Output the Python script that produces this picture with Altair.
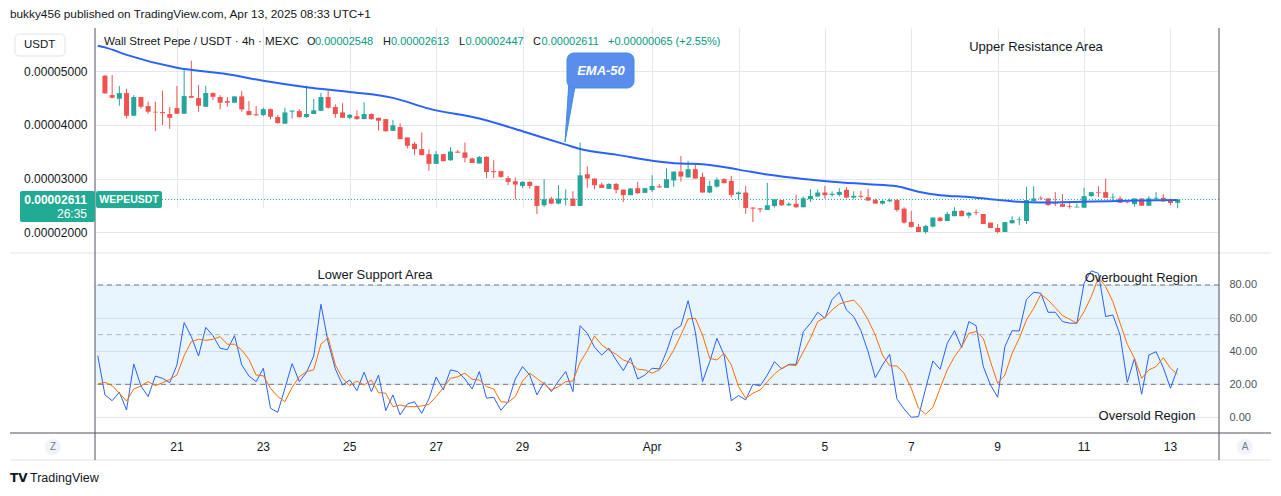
import altair as alt
import pandas as pd

# ---------------- data (prices in units of 1e-5 USDT) ----------------
opens = [4.913, 4.553, 4.484, 4.59, 4.168, 4.516, 4.348, 4.242, 4.236, 4.199,
         4.31, 4.205, 4.534, 4.497, 4.335, 4.59, 4.516, 4.44, 4.41, 4.528,
         4.255, 4.195, 4.18, 4.29, 4.143, 4.02, 4.245, 4.255, 4.143, 4.20,
         4.26, 4.516, 4.33, 4.23, 4.13, 4.16, 4.105, 4.20, 4.13, 4.105,
         3.888, 3.957, 3.764, 3.646, 3.547, 3.453, 3.273, 3.453, 3.34, 3.50,
         3.485, 3.373, 3.28, 3.404, 3.137, 3.137, 3.006, 2.95, 2.863, 2.938,
         2.863, 2.503, 2.627, 2.534, 2.61, 2.627, 2.49, 3.08, 3.0, 2.888,
         2.807, 2.90, 2.795, 2.69, 2.82, 2.733, 2.783, 2.855, 2.826, 2.963,
         3.13, 3.02, 3.174, 3.031, 2.739, 2.85, 2.988, 2.957, 2.71, 2.74,
         2.46, 2.445, 2.416, 2.49, 2.60, 2.503, 2.53, 2.466, 2.615, 2.665,
         2.74, 2.695, 2.696, 2.79, 2.646, 2.677, 2.652, 2.60, 2.534, 2.578,
         2.60, 2.44, 2.193, 2.10, 2.006, 2.106, 2.273, 2.21, 2.30, 2.398,
         2.31, 2.377, 2.34, 2.18, 2.08, 2.006, 2.167, 2.228, 2.21, 2.58,
         2.642, 2.63, 2.537, 2.525, 2.488, 2.463, 2.457, 2.673, 2.747, 2.747,
         2.648, 2.63, 2.568, 2.525, 2.63, 2.494, 2.625, 2.642, 2.61, 2.548]
highs = [4.92, 4.925, 4.72, 4.67, 4.55, 4.516, 4.43, 4.43, 4.634, 4.33,
         4.72, 5.03, 5.19, 4.74, 4.727, 4.60, 4.55, 4.516, 4.528, 4.627,
         4.44, 4.35, 4.317, 4.30, 4.18, 4.317, 4.265, 4.29, 4.727, 4.48,
         4.59, 4.65, 4.38, 4.40, 4.20, 4.267, 4.42, 4.21, 4.13, 4.105,
         4.087, 4.025, 3.764, 3.68, 3.857, 3.54, 3.51, 3.46, 3.584, 3.53,
         3.67, 3.39, 3.42, 3.416, 3.34, 3.143, 3.05, 3.02, 2.95, 2.95,
         2.863, 2.988, 2.66, 2.876, 2.80, 2.764, 3.67, 3.23, 3.0, 2.925,
         2.913, 2.92, 2.795, 2.826, 2.94, 2.826, 3.06, 2.90, 3.19, 3.124,
         3.42, 3.33, 3.255, 3.11, 2.957, 3.02, 3.006, 3.05, 2.76, 2.863,
         2.466, 2.45, 2.92, 2.615, 2.60, 2.56, 2.70, 2.665, 2.80, 2.80,
         2.863, 2.76, 2.82, 2.84, 2.764, 2.77, 2.81, 2.627, 2.60, 2.627,
         2.615, 2.466, 2.404, 2.155, 2.137, 2.286, 2.29, 2.38, 2.466, 2.416,
         2.383, 2.426, 2.34, 2.18, 2.154, 2.19, 2.30, 2.29, 2.846, 2.858,
         2.67, 2.63, 2.747, 2.71, 2.568, 2.537, 2.83, 2.747, 2.858, 3.0,
         2.722, 2.673, 2.568, 2.63, 2.63, 2.673, 2.747, 2.71, 2.63, 2.613]
lows = [4.58, 4.49, 4.354, 4.118, 4.16, 4.30, 4.205, 3.88, 3.994, 3.925,
        4.20, 4.20, 4.50, 4.242, 4.335, 4.46, 4.286, 4.335, 4.41, 4.242,
        4.18, 4.17, 4.16, 4.10, 4.02, 4.02, 4.118, 4.13, 4.13, 4.20,
        4.26, 4.30, 4.13, 4.13, 4.105, 4.093, 4.105, 4.093, 3.894, 3.87,
        3.888, 3.733, 3.56, 3.435, 3.435, 3.143, 3.273, 3.32, 3.33, 3.48,
        3.30, 3.29, 3.28, 3.01, 3.01, 3.01, 2.876, 2.615, 2.826, 2.81,
        2.34, 2.47, 2.52, 2.52, 2.50, 2.49, 2.49, 2.83, 2.80, 2.826,
        2.807, 2.72, 2.565, 2.69, 2.715, 2.733, 2.75, 2.83, 2.826, 2.845,
        2.944, 3.02, 3.0, 2.739, 2.727, 2.83, 2.913, 2.646, 2.62, 2.342,
        2.19, 2.37, 2.416, 2.46, 2.49, 2.49, 2.453, 2.466, 2.565, 2.665,
        2.627, 2.665, 2.665, 2.634, 2.615, 2.63, 2.59, 2.534, 2.515, 2.56,
        2.38, 2.16, 2.087, 2.006, 1.975, 2.093, 2.20, 2.21, 2.30, 2.30,
        2.26, 2.32, 2.154, 2.08, 1.98, 2.006, 2.167, 2.136, 2.154, 2.58,
        2.60, 2.494, 2.488, 2.475, 2.44, 2.463, 2.457, 2.66, 2.66, 2.642,
        2.568, 2.55, 2.537, 2.475, 2.494, 2.494, 2.586, 2.562, 2.506, 2.447]
closes = [4.584, 4.503, 4.59, 4.168, 4.516, 4.335, 4.242, 4.23, 4.217, 4.13,
          4.205, 4.534, 4.503, 4.354, 4.59, 4.52, 4.41, 4.41, 4.528, 4.286,
          4.18, 4.175, 4.29, 4.149, 4.031, 4.23, 4.265, 4.143, 4.20, 4.27,
          4.516, 4.317, 4.20, 4.13, 4.186, 4.105, 4.20, 4.105, 4.075, 3.88,
          3.99, 3.733, 3.609, 3.547, 3.435, 3.273, 3.453, 3.323, 3.503, 3.48,
          3.385, 3.29, 3.40, 3.122, 3.118, 3.03, 2.938, 2.888, 2.938, 2.863,
          2.491, 2.615, 2.534, 2.627, 2.627, 2.49, 3.06, 3.0, 2.876, 2.826,
          2.90, 2.79, 2.69, 2.814, 2.727, 2.82, 2.863, 2.835, 2.988, 3.13,
          3.037, 3.174, 3.0, 2.739, 2.863, 2.975, 2.913, 2.696, 2.74, 2.453,
          2.44, 2.425, 2.503, 2.615, 2.503, 2.53, 2.466, 2.633, 2.677, 2.74,
          2.69, 2.717, 2.752, 2.646, 2.677, 2.66, 2.59, 2.534, 2.584, 2.60,
          2.416, 2.18, 2.10, 2.006, 2.118, 2.273, 2.21, 2.342, 2.398, 2.30,
          2.364, 2.364, 2.154, 2.08, 2.006, 2.19, 2.228, 2.24, 2.60, 2.63,
          2.63, 2.506, 2.525, 2.475, 2.475, 2.475, 2.673, 2.747, 2.735, 2.642,
          2.66, 2.55, 2.556, 2.63, 2.494, 2.63, 2.642, 2.574, 2.546, 2.611]

# EMA-50 read at selected bars (bar index, value in 1e-5)
ema_bar = [-1, 0, 3, 10, 17, 22, 28, 34, 40, 45, 52, 58, 64, 66, 71, 76, 80, 83,
           88, 92, 97, 101, 106, 110, 113, 116, 120, 123, 127, 130, 137, 142, 149]
ema_val = [5.47, 5.44, 5.30, 5.06, 4.94, 4.82, 4.70, 4.61, 4.50, 4.30, 4.115, 3.88,
           3.63, 3.55, 3.445, 3.333, 3.28, 3.268, 3.166, 3.073, 2.99, 2.942, 2.896,
           2.858, 2.756, 2.691, 2.657, 2.616, 2.566, 2.555, 2.574, 2.585, 2.603]

# Stoch RSI %K (blue) and %D (orange); first value belongs to the bar before the first candle
stoch_k = [37.3,
           13.6, 10.1, 15.2, 4.5, 32.3, 19.0, 12.6, 25.0, 23.6, 21.0,
           31.7, 57.3, 48.8, 37.1, 54.4, 49.4, 41.8, 40.9, 49.4, 31.7,
           25.0, 21.6, 29.7, 5.5, 3.1, 17.6, 32.5, 21.6, 27.3, 37.1,
           68.3, 45.4, 29.3, 19.6, 22.6, 16.2, 27.3, 15.6, 25.6, 4.1,
           13.6, 1.5, 8.1, 9.5, 2.5, 11.2, 24.4, 16.6, 28.7, 27.7,
           23.2, 17.2, 27.7, 11.6, 12.2, 4.3, 9.5, 23.2, 30.7, 25.6,
           13.6, 21.2, 15.6, 22.0, 27.7, 15.6, 55.4, 50.8, 42.4, 37.7,
           41.8, 34.7, 28.3, 36.1, 23.2, 25.6, 29.7, 29.3, 39.7, 52.6,
           55.4, 70.5, 51.8, 21.6, 33.7, 47.8, 37.7, 10.1, 13.2, 10.6,
           20.0, 19.0, 25.6, 33.7, 29.3, 32.1, 32.1, 51.8, 56.9, 63.5,
           59.9, 71.3, 75.6, 64.9, 60.9, 52.4, 39.7, 24.0, 31.7, 38.1,
           11.2, 5.1, 0.1, 0.5, 17.6, 34.1, 29.1, 44.8, 52.4, 42.2,
           57.9, 55.4, 30.7, 19.6, 12.2, 42.8, 52.4, 52.2, 71.3, 75.6,
           75.0, 63.5, 63.5, 57.9, 56.9, 56.9, 81.0, 88.5, 87.0, 60.9,
           61.9, 49.8, 21.2, 35.7, 14.0, 37.7, 39.7, 30.1, 17.6, 29.7]
stoch_d = [20.2,
           21.2, 19.2, 14.6, 9.9, 17.2, 19.0, 21.6, 19.2, 21.0, 23.0,
           25.6, 37.3, 45.8, 47.2, 46.6, 47.2, 48.8, 44.2, 44.2, 40.7,
           35.1, 25.6, 25.2, 17.6, 12.6, 9.5, 18.2, 24.6, 27.7, 28.7,
           44.2, 48.2, 31.7, 23.6, 19.2, 22.0, 19.6, 22.6, 15.0, 14.6,
           6.5, 7.5, 6.5, 6.5, 6.9, 7.9, 12.6, 18.0, 23.6, 24.6,
           26.7, 23.0, 22.6, 18.6, 17.2, 9.5, 9.1, 12.6, 22.0, 26.7,
           23.6, 20.2, 16.6, 18.6, 21.6, 22.0, 33.3, 40.3, 49.2, 43.8,
           40.7, 38.1, 34.7, 33.1, 29.1, 28.7, 26.7, 28.7, 33.3, 40.7,
           49.8, 59.5, 59.9, 49.8, 35.7, 34.7, 38.7, 31.7, 18.6, 11.6,
           14.6, 16.6, 21.6, 26.3, 29.7, 31.7, 31.3, 39.7, 47.8, 57.9,
           60.3, 64.9, 68.5, 69.9, 70.9, 66.3, 58.9, 49.8, 37.7, 31.1,
           31.1, 26.7, 17.6, 5.6, 2.0, 6.1, 17.6, 28.7, 36.7, 42.8,
           50.8, 51.8, 47.8, 33.7, 20.6, 25.6, 38.7, 47.8, 58.9, 65.9,
           74.4, 70.9, 66.3, 61.5, 59.3, 56.9, 63.9, 73.0, 84.4, 79.0,
           69.9, 56.9, 44.2, 35.7, 23.6, 28.7, 30.7, 36.1, 29.7, 26.1]

tick_dates = ["2025-03-21", "2025-03-23", "2025-03-25", "2025-03-27", "2025-03-29",
              "2025-04-01", "2025-04-03", "2025-04-05", "2025-04-07", "2025-04-09",
              "2025-04-11", "2025-04-13"]
tick_labels = ["21", "23", "25", "27", "29", "Apr", "3", "5", "7", "9", "11", "13"]
price_ticks = [2, 3, 4, 5]
rsi_ticks = [0, 20, 40, 60, 80]
rsi_levels = [20, 80]
rsi_mid = [50]

# ---------------- build tables ----------------
def ms(s):
    return int(pd.Timestamp(s, tz="UTC").timestamp() * 1000)

BAR = 4 * 3600 * 1000
T0 = ms("2025-03-19 08:00")
n = len(opens)
times = [T0 + i * BAR for i in range(n)]
E = 1e-5

candles = pd.DataFrame({
    "t": times,
    "o": [v * E for v in opens],
    "h": [v * E for v in highs],
    "l": [v * E for v in lows],
    "c": [v * E for v in closes],
    "dir": ["up" if c >= o else "down" for o, c in zip(opens, closes)],
})
ema_df = pd.DataFrame({"t": [T0 + i * BAR for i in ema_bar], "v": [v * E for v in ema_val]})
rsi_df = pd.DataFrame({"t": [T0 + i * BAR for i in range(-1, n)], "k": stoch_k, "d": stoch_d})
tick_df = pd.DataFrame({"t": [ms(d) for d in tick_dates], "label": tick_labels})
lvl_df = pd.DataFrame({"lvl": rsi_levels})
mid_df = pd.DataFrame({"lvl": rsi_mid})
band_df = pd.DataFrame({"lo": [min(rsi_levels)], "hi": [max(rsi_levels)]})
ONE = pd.DataFrame({"a": [0]})

# ---------------- style ----------------
FONT = "Liberation Sans"
INK = "#131722"
GRID = "#e3e8ef"
GREEN = "#26a69a"
RED = "#ef5350"
TEAL = "#22ab94"
VALC = "#089981"
W, H = 1124, 405

xscale = alt.Scale(type="utc", domain=[ms("2025-03-19 05:15"), ms("2025-04-14 00:11")])
xaxis = alt.Axis(values=[ms(d) for d in tick_dates], grid=True, gridColor=GRID, labels=False,
                 ticks=False, domain=False, title=None)
pscale = alt.Scale(domain=[1.615e-5, 5.80e-5], range=[225, 0], zero=False, nice=False)
paxis = alt.Axis(orient="left", values=[v * E for v in price_ticks], format=".8f", grid=True,
                 gridColor=GRID, domain=False, ticks=False, labelPadding=8, labelFontSize=12,
                 labelColor=INK, labelFont=FONT, title=None)
rscale = alt.Scale(domain=[-9.4, 98.7], range=[405, 226], zero=False, nice=False)
raxis = alt.Axis(orient="right", values=rsi_ticks, format=".2f", grid=True, gridColor=GRID,
                 domain=False, ticks=False, labelPadding=10, labelFontSize=11,
                 labelColor="#50535e", labelFont=FONT, title=None)

X = alt.X("t:T", scale=xscale, axis=xaxis)
color = alt.Color("dir:N", scale=alt.Scale(domain=["up", "down"], range=[GREEN, RED]), legend=None)

wicks = alt.Chart(candles).mark_rule(strokeWidth=1).encode(
    x=X, y=alt.Y("l:Q", scale=pscale, axis=paxis), y2="h:Q", color=color)
bodies = alt.Chart(candles).mark_bar(size=5).encode(
    x=X, y=alt.Y("o:Q", scale=pscale, axis=paxis), y2="c:Q", color=color)
ema = alt.Chart(ema_df).mark_line(color="#2962ff", strokeWidth=2, interpolate="monotone",
                                  clip=True).encode(
    x=X, y=alt.Y("v:Q", scale=pscale, axis=paxis))
last_line = alt.Chart(ONE).mark_rule(color=TEAL, strokeDash=[1, 2], strokeWidth=1).encode(
    x=alt.value(67), x2=alt.value(W),
    y=alt.YDatum(closes[-1] * E, type="quantitative", scale=pscale, axis=paxis))
xlabels = alt.Chart(tick_df).mark_text(fontSize=12, color=INK, font=FONT, baseline="middle").encode(
    x=X, y=alt.value(419), text="label:N")

price_group = alt.layer(wicks, bodies, ema, last_line, xlabels)

band = alt.Chart(band_df).mark_rect(color="#2196f3", opacity=0.1).encode(
    x=alt.value(0), x2=alt.value(W), y=alt.Y("lo:Q", scale=rscale, axis=raxis), y2="hi:Q")
lvl = alt.Chart(lvl_df).mark_rule(color="#787b86", strokeDash=[5, 4], strokeWidth=1).encode(
    y=alt.Y("lvl:Q", scale=rscale, axis=raxis))
mid = alt.Chart(mid_df).mark_rule(color="#b2b5be", strokeDash=[5, 4], strokeWidth=1).encode(
    y=alt.Y("lvl:Q", scale=rscale, axis=raxis))
kline = alt.Chart(rsi_df).mark_line(color="#2962ff", strokeWidth=1, clip=True).encode(
    x=X, y=alt.Y("k:Q", scale=rscale, axis=raxis))
dline = alt.Chart(rsi_df).mark_line(color="#ff6d00", strokeWidth=1, clip=True).encode(
    x=X, y=alt.Y("d:Q", scale=rscale, axis=raxis))
rsi_group = alt.layer(band, mid, lvl, kline, dline)


# ---------------- annotations (pixel positions relative to plot origin) ----------------
def txt(s, x, y, size=12, color=INK, align="left", weight="normal", style="normal", font=FONT):
    return alt.Chart(ONE).mark_text(text=s, align=align, baseline="middle", fontSize=size,
                                    color=color, fontWeight=weight, fontStyle=style,
                                    font=font).encode(x=alt.value(x), y=alt.value(y))


def box(x1, x2, y1, y2, fill, stroke=None, radius=0, sw=1):
    kw = dict(fill=fill, cornerRadius=radius, opacity=1)
    if stroke:
        kw.update(stroke=stroke, strokeWidth=sw)
    return alt.Chart(ONE).mark_rect(**kw).encode(
        x=alt.value(x1), x2=alt.value(x2), y=alt.value(y1), y2=alt.value(y2))


def hline(x1, x2, y, color, sw=1):
    return alt.Chart(ONE).mark_rule(color=color, strokeWidth=sw).encode(
        x=alt.value(x1), x2=alt.value(x2), y=alt.value(y))


def vline(x, y1, y2, color, sw=1):
    return alt.Chart(ONE).mark_rule(color=color, strokeWidth=sw).encode(
        x=alt.value(x), y=alt.value(y1), y2=alt.value(y2))


def fmt(v):
    return f"{v * E:.8f}"


chg = closes[-1] - closes[-2]
chg_pct = chg / closes[-2] * 100
ohlc_vals = [fmt(opens[-1]), fmt(highs[-1]), fmt(lows[-1]), fmt(closes[-1])]

ann = [
    # frame
    hline(-85, 1176, 225, "#e0e3eb"),
    hline(-85, 1176, 432, "#e0e3eb"),
    vline(0, 0, 432, "#50535e"),
    vline(W, 0, 432, "#50535e"),
    hline(-85, 1176, 405, "#50535e"),
    # header
    txt("bukky456 published on TradingView.com, Apr 13, 2025 08:33 UTC+1", -85, -14, size=11.8),
    # symbol legend
    txt("Wall Street Pepe / USDT \u00b7 4h \u00b7 MEXC", 9, 14, size=11.6),
    txt("O", 212, 14, size=11), txt(ohlc_vals[0], 220, 14, size=11, color=VALC),
    txt("H", 288, 14, size=11), txt(ohlc_vals[1], 296, 14, size=11, color=VALC),
    txt("L", 364, 14, size=11), txt(ohlc_vals[2], 370.5, 14, size=11, color=VALC),
    txt("C", 438, 14, size=11), txt(ohlc_vals[3], 446.5, 14, size=11, color=VALC),
    txt(f"+{chg * E:.8f} (+{chg_pct:.2f}%)", 513, 14, size=11, color=VALC),
    # currency box
    box(-80, -30, 6, 28, "white", stroke="#e0e3eb", radius=4),
    txt("USDT", -71, 17, size=11.5),
    # last price labels
    box(-75, 0, 163, 194, TEAL, radius=2),
    txt(fmt(closes[-1]), -8, 172, size=12, color="white", align="right", weight="bold"),
    txt("26:35", -8, 186, size=12, color="white", align="right"),
    box(1, 67, 163, 180, TEAL, radius=2),
    txt("WEPEUSDT", 34, 171.5, size=10.5, color="white", align="center", weight="bold"),
    # EMA callout
    alt.Chart(ONE).mark_point(shape="M0,-6 L7,-6 L-4,55 Z", size=4, filled=True,
                              fill="#5b8def", stroke="#3f8fd8", strokeWidth=1,
                              opacity=1).encode(x=alt.value(474), y=alt.value(59)),
    box(472, 539, 25, 60, "#5b8def", stroke="#3f8fd8", radius=7),
    txt("EMA-50", 506, 43, size=13, color="white", align="center", weight="bold",
        style="italic"),
    # area labels
    txt("Upper Resistance Area", 941, 19, size=13, align="center"),
    txt("Lower Support Area", 280, 247, size=13, align="center"),
    txt("Overbought Region", 1046, 250, size=13, align="center"),
    txt("Oversold Region", 1052, 388, size=13, align="center"),
    # axis corner buttons
    alt.Chart(ONE).mark_circle(size=254, color="#f0f3fa", opacity=1).encode(
        x=alt.value(-42), y=alt.value(419)),
    txt("Z", -42, 419, size=10, color="#787b86", align="center"),
    alt.Chart(ONE).mark_circle(size=254, color="#f0f3fa", opacity=1).encode(
        x=alt.value(1150), y=alt.value(419)),
    txt("A", 1150, 419, size=10, color="#787b86", align="center"),
    # footer
    txt("TV", -85, 450, size=12, weight="bold", font="DejaVu Sans"),
    txt("TradingView", -65, 450, size=12.5),
]

chart = alt.layer(rsi_group, price_group, *ann).resolve_scale(
    y="independent", color="independent"
).properties(
    width=W, height=H,
    autosize=alt.AutoSizeParams(type="none"),
    padding={"left": 95, "top": 28, "right": 62, "bottom": 63},
    background="white",
).configure_view(stroke=None)

chart.save("out.html", embed_options={"renderer": "svg", "actions": False})
